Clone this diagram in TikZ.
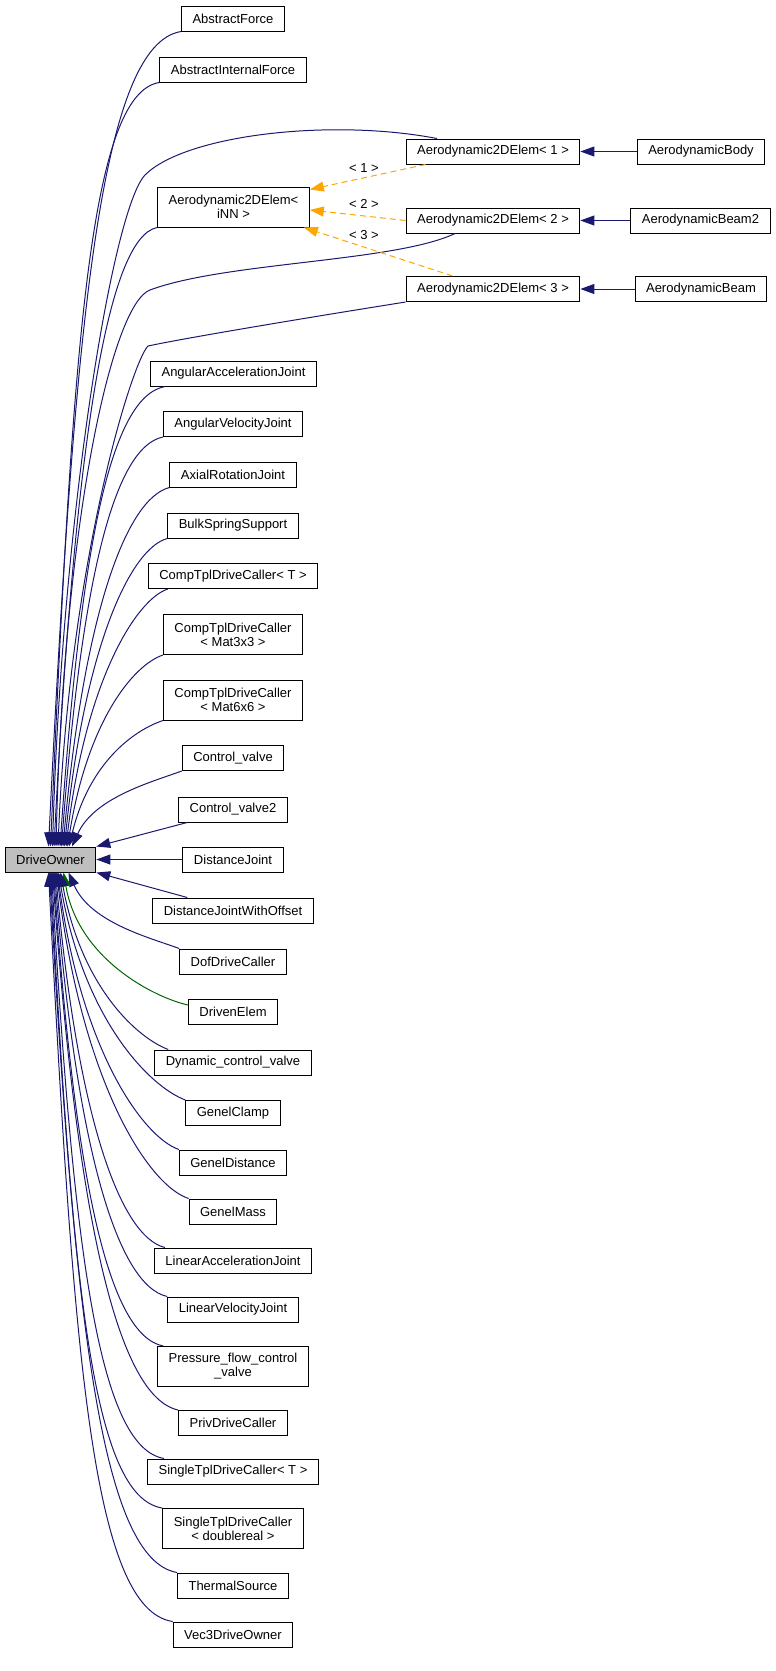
\documentclass[tikz,border=0pt]{standalone}
\usepackage{fontspec}
\setmainfont{Liberation Sans}
\usetikzlibrary{arrows.meta}

\definecolor{edgeblue}{RGB}{25,25,112}
\definecolor{edgeorange}{RGB}{255,165,0}
\definecolor{edgegreen}{RGB}{0,100,0}
\definecolor{rootgray}{RGB}{191,191,191}

\begin{document}
\begin{tikzpicture}[
  x=1pt, y=1pt,
  cls/.style={rectangle, draw=black, line width=1pt, fill=white, inner xsep=11pt,
              inner ysep=3pt, minimum height=25pt, align=center,
              font=\fontsize{13}{14}\selectfont},
  cls2/.style={cls, minimum height=40pt},
  root/.style={cls, fill=rootgray},
  inherit/.style={-{Triangle[length=14pt, width=10pt]}, edgeblue, line width=1pt},
  usage/.style={inherit, edgegreen},
  tmpl/.style={-{Triangle[length=14pt, width=10pt]}, edgeorange, line width=1pt,
               dash pattern=on 6pt off 4pt},
  lbl/.style={font=\fontsize{13}{14}\selectfont, inner sep=0pt}
]
\useasboundingbox (0,0) rectangle (776,-1671);

% Root
\node[root] (do) at (50.5,-859.5) {DriveOwner};

% Middle column
\node[cls]  (af)   at (233,-18.5)   {AbstractForce};
\node[cls]  (aif)  at (233,-69.5)   {AbstractInternalForce};
\node[cls2] (inn)  at (233.5,-207)  {Aerodynamic2DElem<\\iNN >};
\node[cls]  (aaj)  at (233.5,-373.5) {AngularAccelerationJoint};
\node[cls]  (avj)  at (233,-424)    {AngularVelocityJoint};
\node[cls]  (arj)  at (233,-474.5)  {AxialRotationJoint};
\node[cls]  (bss)  at (233,-525.5)  {BulkSpringSupport};
\node[cls]  (ctt)  at (233,-576)    {CompTplDriveCaller< T >};
\node[cls2] (ct33) at (233,-634.5)  {CompTplDriveCaller\\< Mat3x3 >};
\node[cls2] (ct66) at (233,-700)    {CompTplDriveCaller\\< Mat6x6 >};
\node[cls]  (cv)   at (233,-758)    {Control\_valve};
\node[cls]  (cv2)  at (233,-809.5)  {Control\_valve2};
\node[cls]  (dj)   at (233,-859.5)  {DistanceJoint};
\node[cls]  (djo)  at (233,-910.5)  {DistanceJointWithOffset};
\node[cls]  (ddc)  at (233,-961.5)  {DofDriveCaller};
\node[cls]  (drv)  at (233,-1012)   {DrivenElem};
\node[cls]  (dcv)  at (233,-1062.5) {Dynamic\_control\_valve};
\node[cls]  (gc)   at (233,-1113)   {GenelClamp};
\node[cls]  (gd)   at (233,-1162.5) {GenelDistance};
\node[cls]  (gm)   at (233,-1211.5) {GenelMass};
\node[cls]  (laj)  at (233,-1260.5) {LinearAccelerationJoint};
\node[cls]  (lvj)  at (233,-1309.5) {LinearVelocityJoint};
\node[cls2] (pfcv) at (233,-1366.5) {Pressure\_flow\_control\\\_valve};
\node[cls]  (pdc)  at (233,-1423)   {PrivDriveCaller};
\node[cls]  (stt)  at (233,-1471.5) {SingleTplDriveCaller< T >};
\node[cls2] (std)  at (233,-1528.5) {SingleTplDriveCaller\\< doublereal >};
\node[cls]  (ts)   at (233,-1585.5) {ThermalSource};
\node[cls]  (v3)   at (233,-1634.5) {Vec3DriveOwner};

% Template instances and their subclasses
\node[cls] (a1)  at (493,-151.5)   {Aerodynamic2DElem< 1 >};
\node[cls] (a2)  at (493,-220.5)   {Aerodynamic2DElem< 2 >};
\node[cls] (a3)  at (493,-289)     {Aerodynamic2DElem< 3 >};
\node[cls] (abd) at (701,-151.5)   {AerodynamicBody};
\node[cls] (ab2) at (700.5,-220.5) {AerodynamicBeam2};
\node[cls] (abm) at (701,-289)     {AerodynamicBeam};

% Template labels
\node[lbl] (l1) at (364,-168) {< 1 >};
\node[lbl] (l2) at (364,-204) {< 2 >};
\node[lbl] (l3) at (364,-235) {< 3 >};

% Arrows into the top of the root
\draw[inherit] (af.south west) .. controls +(-80,-13) and +(26,530) .. ([xshift=-2pt]do.north);
\draw[inherit] (aif.south west) .. controls +(-70,-11) and +(22,497) .. (do.north);
\draw[inherit] ([xshift=-56pt]a1.north) .. controls (330,-118) and (185,-135) .. (145,-175)
  .. controls (112,-210) and (62,-520) .. ([xshift=2pt]do.north);
\draw[inherit] (inn.south west) .. controls +(-50,-10) and +(21,403) .. ([xshift=3.5pt]do.north);
\draw[inherit] ([xshift=-38pt]a2.south) .. controls (395,-262) and (225,-262) .. (150,-290)
  .. controls (112,-304) and (64,-520) .. ([xshift=5.5pt]do.north);
\draw[inherit] (a3.south west) .. controls (330,-314) and (190,-337) .. (148,-346)
  .. controls (132,-362) and (70,-560) .. ([xshift=7.5pt]do.north);
\draw[inherit] ([xshift=15pt]aaj.south west) .. controls +(-55,-10) and +(21,300) .. ([xshift=9.5pt]do.north);
\draw[inherit] (avj.south west) .. controls +(-49,-10) and +(20,267) .. ([xshift=11pt]do.north);
\draw[inherit] (arj.south west) .. controls +(-43,-11) and +(21,234) .. ([xshift=12.5pt]do.north);
\draw[inherit] (bss.south west) .. controls +(-37,-10) and +(20,200) .. ([xshift=14pt]do.north);
\draw[inherit] ([xshift=20pt]ctt.south west) .. controls +(-31,-10) and +(20,168) .. ([xshift=15.5pt]do.north);
\draw[inherit] (ct33.south west) .. controls +(-30,-10) and +(20,125) .. ([xshift=17pt]do.north);
\draw[inherit] (ct66.south west) .. controls +(-30,-10) and +(20,83) .. ([xshift=18.5pt]do.north);
\draw[inherit] (cv.south west) .. controls +(-30,-11) and +(22,49) .. ([xshift=21.5pt]do.north);

% Arrows into the right side
\draw[inherit] ([xshift=9pt]cv2.south west) -- (do.north east);
\draw[inherit] (dj.west) -- (do.east);
\draw[inherit] ([xshift=35pt]djo.north west) -- (do.south east);

% Arrows into the bottom of the root
\draw[inherit] (ddc.north west) .. controls +(-30,11) and +(22,-50) .. ([xshift=18pt]do.south);
\draw[usage] ([yshift=-6pt]drv.north west) .. controls +(-35,8) and +(15,-86) .. ([xshift=13pt]do.south);
\draw[inherit] ([xshift=14pt]dcv.north west) .. controls +(-30,11) and +(21,-116) .. ([xshift=10pt]do.south);
\draw[inherit] (gc.north west) .. controls +(-35,13) and +(25,-148) .. ([xshift=8pt]do.south);
\draw[inherit] (gd.north west) .. controls +(-35,12) and +(24,-180) .. ([xshift=7pt]do.south);
\draw[inherit] (gm.north west) .. controls +(-40,13) and +(26,-212) .. ([xshift=6pt]do.south);
\draw[inherit] ([xshift=11pt]laj.north west) .. controls +(-45,11) and +(22,-244) .. ([xshift=5pt]do.south);
\draw[inherit] (lvj.north west) .. controls +(-50,11) and +(22,-276) .. ([xshift=4pt]do.south);
\draw[inherit] ([xshift=6pt]pfcv.north west) .. controls +(-55,11) and +(22,-309) .. ([xshift=3pt]do.south);
\draw[inherit] (pdc.north west) .. controls +(-60,13) and +(25,-350) .. ([xshift=2pt]do.south);
\draw[inherit] ([xshift=17pt]stt.north west) .. controls +(-65,11) and +(22,-382) .. ([xshift=1pt]do.south);
\draw[inherit] (std.north west) .. controls +(-70,11) and +(22,-414) .. (do.south);
\draw[inherit] (ts.north west) .. controls +(-75,13) and +(25,-456) .. ([xshift=-1pt]do.south);
\draw[inherit] (v3.north west) .. controls +(-80,12) and +(25,-488) .. ([xshift=-2pt]do.south);

% Template instantiation arrows
\draw[tmpl] ([xshift=20pt]a1.south west) -- ([yshift=-3pt]inn.north east);
\draw[tmpl] (a2.west) -- ([yshift=-3pt]inn.east);
\draw[tmpl] ([xshift=47pt]a3.north west) -- ([xshift=-6pt]inn.south east);

% Subclasses of the instances
\draw[inherit] (abd.west) -- (a1.east);
\draw[inherit] (ab2.west) -- (a2.east);
\draw[inherit] (abm.west) -- (a3.east);

\end{tikzpicture}
\end{document}
